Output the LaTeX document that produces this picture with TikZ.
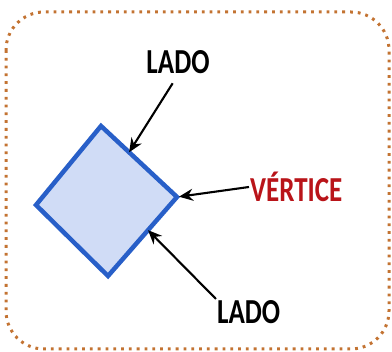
\documentclass[tikz,border=0pt]{standalone}
\usepackage{fontspec}
\setmainfont{Carlito}
\usetikzlibrary{arrows.meta,calc}
\definecolor{FRAME-ORANGE}{RGB}{195, 115, 50}
\definecolor{SQ-BLUE}{RGB}{40, 95, 200}
\definecolor{SQ-FILL}{RGB}{208, 220, 246}
\definecolor{VERT-RED}{RGB}{185, 20, 25}
\newcommand{\tallword}[1]{\scalebox{1}[1.3]{#1}}

\begin{document}
\begin{tikzpicture}[x=1pt, y=-1pt,
    label/.style={font=\fontsize{27}{27}\selectfont\bfseries, inner sep=1pt},
    pointer/.style={-{Stealth[length=14pt, width=12pt]}, line width=2.1pt, black}]
  \useasboundingbox (0,0) rectangle (392,352);

  % Frame (dotted, rounded)
  \draw[FRAME-ORANGE, line width=3pt, dash pattern=on 2.8pt off 5pt, rounded corners=38pt]
    (6,12) rectangle (389,349);

  % The square, turned on its corner
  \coordinate (vT) at (101,126);
  \coordinate (vR) at (177,197);
  \coordinate (vB) at (108,276);
  \coordinate (vL) at (36,205);
  \draw[SQ-BLUE, fill=SQ-FILL, line width=4.5pt, line join=miter]
    (vT) -- (vR) -- (vB) -- (vL) -- cycle;

  % Labels
  \node[label] (ladoA) at (178,62) {\tallword{LADO}};
  \node[label, VERT-RED, anchor=west] (vertice) at (249,187) {\tallword{VÉRTICE}};
  \node[label, anchor=north west] (ladoB) at (216,299) {\tallword{LADO}};

  % Arrows to the square
  \coordinate (eTop) at ($(vT)!0.37!(vR)$);
  \coordinate (eBot) at ($(vR)!0.42!(vB)$);
  \draw[pointer, shorten <=10pt] (ladoA.south) -- (eTop);
  \draw[pointer, shorten >=2pt] (vertice.west) -- (vR);
  \draw[pointer] (ladoB.north west) -- (eBot);
\end{tikzpicture}
\end{document}
